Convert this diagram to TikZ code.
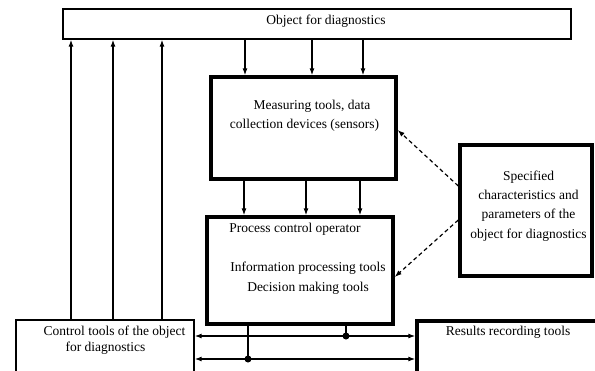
\documentclass[tikz,border=0pt]{standalone}
\usepackage{fontspec}
\setmainfont{Liberation Serif}
\usetikzlibrary{arrows.meta,calc}
\begin{document}
\begin{tikzpicture}[x=1pt,y=-1pt,
  thinbox/.style={draw,line width=1.3pt,rectangle,inner sep=0pt,fill=white},
  thickbox/.style={draw,line width=3.4pt,rectangle,inner sep=0pt,fill=white},
  txt/.style={inner sep=0pt,font=\fontsize{13.5}{19.3}\selectfont,text height=9pt,text depth=3pt},
  mtxt/.style={inner sep=0pt,font=\fontsize{13.5}{19.3}\selectfont,align=center},
  arr/.style={line width=1.2pt,-{Latex[length=7pt,width=5pt]}},
  darr/.style={line width=1.2pt,{Latex[length=7pt,width=5pt]}-{Latex[length=7pt,width=5pt]}},
  dsh/.style={line width=1.2pt,dash pattern=on 4pt off 3pt,-{Latex[length=7pt,width=5pt]}},
  ln/.style={line width=1.2pt},
  dot/.style={circle,fill=black,inner sep=0pt,minimum size=7pt}]
\useasboundingbox (0,0) rectangle (595,370);
\clip (0,0) rectangle (595,370);
\fill[white] (0,0) rectangle (595,370);
% boxes
\node[thinbox,minimum width=508pt,minimum height=30pt] (top) at (317,24) {};
\node[thickbox,minimum width=185pt,minimum height=102pt] (meas) at (303.5,128) {};
\node[thickbox,minimum width=186pt,minimum height=107pt] (proc) at (300,270.5) {};
\node[thickbox,minimum width=132pt,minimum height=131pt] (spec) at (526,210.5) {};
\node[thinbox,minimum width=178pt,minimum height=52pt] (ctrl) at (105,346) {};
\node[thickbox,minimum width=181pt,minimum height=52pt] (res) at (507.5,347) {};
% texts
\node[txt] (ttop) at (326,21) {Object for diagnostics};
\node[txt] (tm1) at (312,106) {Measuring tools, data};
\node[txt] (tm2) at (304.5,125) {collection devices (sensors)};
\node[txt] (tp1) at (295,229) {Process control operator};
\node[txt] (tp2) at (308,268) {Information processing tools};
\node[txt] (tp3) at (308,288) {Decision making tools};
\node[mtxt] (tspec) at (528.5,206) {Specified\\characteristics and\\parameters of the\\object for diagnostics};
\node[txt] (tc1) at (114.5,332) {Control tools of the object};
\node[txt] (tc2) at (105.5,348) {for diagnostics};
\node[txt] (tr) at (508,332) {Results recording tools};
% x positions
\coordinate (u1) at (71,0);
\coordinate (u2) at (113,0);
\coordinate (u3) at (162,0);
\coordinate (d1) at (245,0);
\coordinate (d2) at (312,0);
\coordinate (d3) at (363,0);
\coordinate (m1) at (244,0);
\coordinate (m2) at (306,0);
\coordinate (m3) at (360,0);
% up arrows
\foreach \c in {u1,u2,u3} \draw[arr] (ctrl.north -| \c) -- (top.south -| \c);
% down arrows
\foreach \c in {d1,d2,d3} \draw[arr] (top.south -| \c) -- (meas.north -| \c);
\foreach \c in {m1,m2,m3} \draw[arr] (meas.south -| \c) -- (proc.north -| \c);
% horizontal double arrows
\coordinate (h1) at (0,336);
\coordinate (h2) at (0,359);
\draw[darr] (ctrl.east |- h1) -- (res.west |- h1);
\draw[darr] (ctrl.east |- h2) -- (res.west |- h2);
\node[dot] (j1) at (346,336) {};
\node[dot] (j2) at (248,359) {};
\draw[ln] (proc.south -| j1) -- (j1.center);
\draw[ln] (proc.south -| j2) -- (j2.center);
% dashed arrows
\coordinate (s1) at (0,186);
\coordinate (s2) at (0,220);
\coordinate (e1) at (0,130);
\coordinate (e2) at (0,277);
\draw[dsh] (spec.west |- s1) -- (meas.east |- e1);
\draw[dsh] (spec.west |- s2) -- (proc.east |- e2);
\end{tikzpicture}
\end{document}
